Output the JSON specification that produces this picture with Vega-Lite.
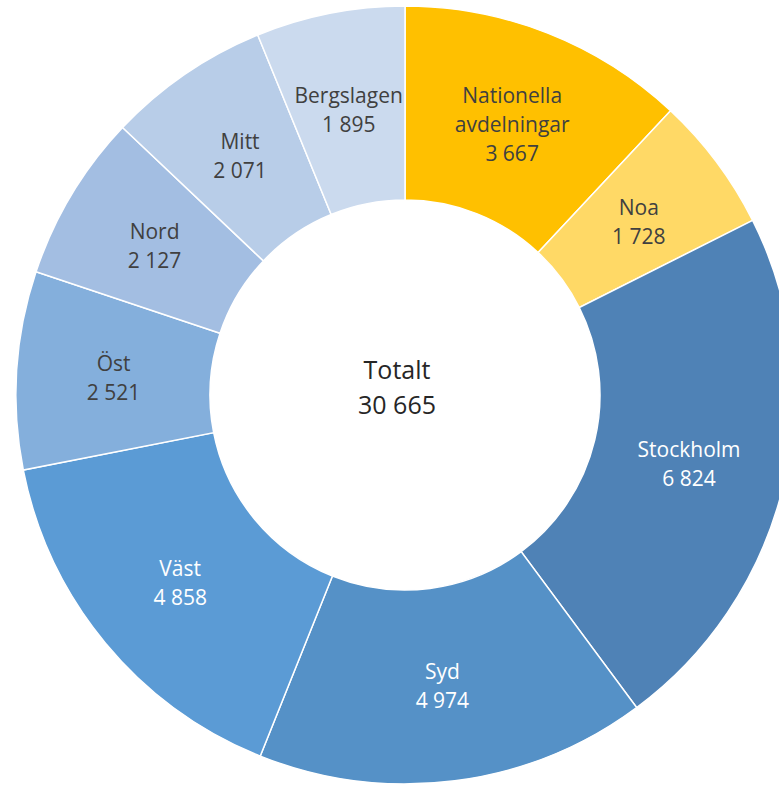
{
  "$schema": "https://vega.github.io/schema/vega-lite/v6.json",
  "width": 810,
  "height": 790,
  "autosize": "none",
  "padding": 0,
  "background": "white",
  "config": {"view": {"stroke": null}, "text": {"font": "Open Sans"}},
  "data": {
    "values": [
      {"kategori": "Nationella avdelningar", "antal": 3667, "ordning": 1},
      {"kategori": "Noa", "antal": 1728, "ordning": 2},
      {"kategori": "Stockholm", "antal": 6824, "ordning": 3},
      {"kategori": "Syd", "antal": 4974, "ordning": 4},
      {"kategori": "Väst", "antal": 4858, "ordning": 5},
      {"kategori": "Öst", "antal": 2521, "ordning": 6},
      {"kategori": "Nord", "antal": 2127, "ordning": 7},
      {"kategori": "Mitt", "antal": 2071, "ordning": 8},
      {"kategori": "Bergslagen", "antal": 1895, "ordning": 9}
    ]
  },
  "layer": [
    {
      "mark": {"type": "arc", "outerRadius": 389, "innerRadius": 195, "stroke": "white", "strokeWidth": 1.5},
      "encoding": {
        "theta": {"field": "antal", "type": "quantitative", "stack": true},
        "order": {"field": "ordning", "type": "quantitative"},
        "color": {
          "field": "kategori",
          "type": "nominal",
          "legend": null,
          "scale": {
            "domain": ["Nationella avdelningar", "Noa", "Stockholm", "Syd", "Väst", "Öst", "Nord", "Mitt", "Bergslagen"],
            "range": ["#FFC000", "#FFD966", "#4F82B6", "#5591C7", "#5B9BD5", "#84AFDC", "#A3BEE2", "#B8CDE8", "#CBDAEE"]
          }
        }
      }
    },
    {
      "transform": [
        {"calculate": "replace(datum.kategori, ' ', '\\n') + '\\n' + replace(format(datum.antal, ','), ',', ' ')", "as": "etikett"}
      ],
      "mark": {
        "type": "text", "radius": 292, "fontSize": 21, "lineBreak": "\n", "lineHeight": 29,
        "baseline": "middle", "align": "center",
        "dy": {"expr": "3 - 14.5 * (length(split(datum.etikett, '\\n')) - 1)"}
      },
      "encoding": {
        "theta": {"field": "antal", "type": "quantitative", "stack": true},
        "order": {"field": "ordning", "type": "quantitative"},
        "text": {"field": "etikett", "type": "nominal"},
        "color": {
          "condition": {"test": "indexof(['Stockholm', 'Syd', 'Väst'], datum.kategori) >= 0", "value": "#FFFFFF"},
          "value": "#404040"
        }
      }
    },
    {
      "transform": [
        {"aggregate": [{"op": "sum", "field": "antal", "as": "total"}]},
        {"calculate": "'Totalt\\n' + replace(format(datum.total, ','), ',', ' ')", "as": "etikett"}
      ],
      "mark": {"type": "text", "fontSize": 25, "lineBreak": "\n", "lineHeight": 35, "baseline": "middle", "align": "center", "color": "#262626", "dx": -8, "dy": -24},
      "encoding": {
        "text": {"field": "etikett", "type": "nominal"}
      }
    }
  ]
}
